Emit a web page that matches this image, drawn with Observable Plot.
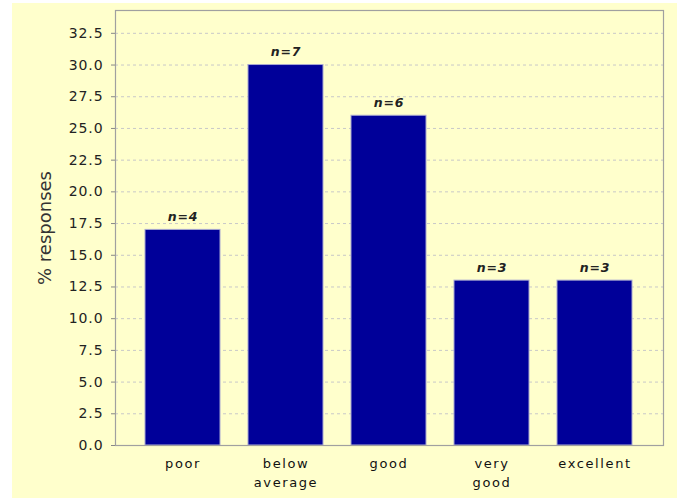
<!DOCTYPE html>
<html>
<head>
<meta charset="utf-8">
<script src="https://cdn.jsdelivr.net/npm/d3@7"></script>
<script src="https://cdn.jsdelivr.net/npm/@observablehq/plot@0.6"></script>
<style>
  html, body { margin: 0; padding: 0; background: #ffffff; }
  #chart { position: absolute; left: 12px; top: 3px; width: 665px; height: 495px; background: #ffffcc; }
  #chart svg { display: block; background: #ffffcc; }
  #chart svg g[aria-label="x-axis tick label"] text { letter-spacing: 1.6px; }
  #chart svg g[aria-label="y-axis tick label"] text { letter-spacing: 0.9px; }
  #chart svg g.nlabels text { letter-spacing: 0.8px; }
</style>
</head>
<body>
<div id="chart"></div>
<script>
const categories = ["poor", "below average", "good", "very good", "excellent"];
const categoryLabels = ["poor", "below\naverage", "good", "very\ngood", "excellent"];
const percentResponses = [17, 30, 26, 13, 13];
const counts = [4, 7, 6, 3, 3];
const yTicks = [0, 2.5, 5, 7.5, 10, 12.5, 15, 17.5, 20, 22.5, 25, 27.5, 30, 32.5];

const data = categories.map((c, i) => ({
  category: c,
  value: percentResponses[i],
  label: "n=" + counts[i]
}));
const labelOf = new Map(categories.map((c, i) => [c, categoryLabels[i]]));

const font = "'DejaVu Sans', sans-serif";

const chart = Plot.plot({
  width: 665,
  height: 495,
  marginLeft: 103,
  marginTop: 7,
  marginRight: 14,
  marginBottom: 53,
  style: { background: "#ffffcc", fontFamily: font, overflow: "visible" },
  x: { domain: categories, padding: 0.27 },
  y: { domain: [0, 34.3] },
  marks: [
    Plot.gridY(yTicks, { stroke: "#c8c8c8", strokeOpacity: 1, strokeDasharray: "3,3" }),
    Plot.barY(data, { x: "category", y: "value", fill: "#000099", stroke: "#a8a8d0", strokeWidth: 1 }),
    Plot.text(data, { x: "category", y: "value", text: "label", dy: -13, fontSize: 12.5, fontStyle: "italic", fontWeight: "bold", fill: "#222", className: "nlabels" }),
    Plot.frame({ stroke: "#a0a0a0", strokeWidth: 1.2 }),
    Plot.axisY(yTicks, { tickSize: 4, tickPadding: 8, stroke: "#888", fill: "#222", fontSize: 14, tickFormat: d => d.toFixed(1), label: null }),
    Plot.axisX({ tickSize: 0, tickPadding: 10, fill: "#111", fontSize: 13, lineHeight: 1.4, tickFormat: d => labelOf.get(d), label: null }),
    Plot.text(["% responses"], { frameAnchor: "left", textAnchor: "middle", dx: -70, rotate: -90, fontSize: 18, fill: "#333" })
  ]
});

document.getElementById("chart").appendChild(chart);
</script>
</body>
</html>
